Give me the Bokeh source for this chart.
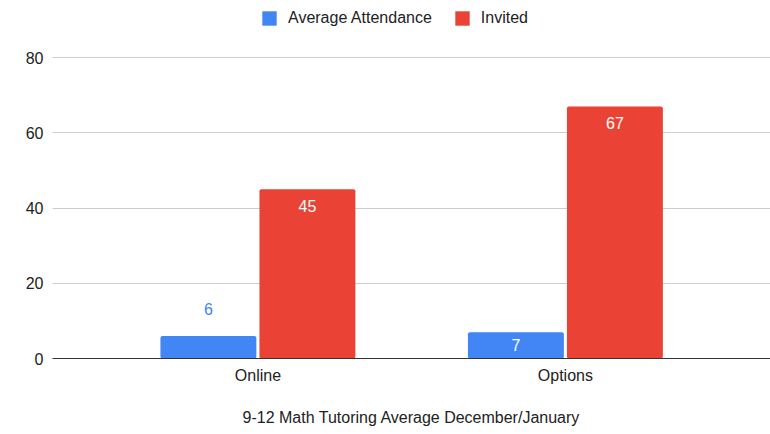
from bokeh.plotting import figure
from bokeh.models import (ColumnDataSource, Range1d, FixedTicker, Legend, LegendItem)
from bokeh.transform import dodge
from bokeh.embed import file_html
from bokeh.resources import INLINE

categories = ["Online", "Options"]
attendance = [6, 7]
invited = [45, 67]
series_names = ["Average Attendance", "Invited"]
y_ticks = [0, 20, 40, 60, 80]
x_title = "9-12 Math Tutoring Average December/January"

BLUE = "#4285f4"
RED = "#ea4335"
FONT = "Liberation Sans"
TXT = "#222222"
FS = "16px"

xs = list(range(len(categories)))
frame_h = 358
top_gap = 57          # space above the 80 gridline, inside the frame (holds legend)
y_max = y_ticks[-1]
y_end = y_max * frame_h / (frame_h - top_gap)
px_per_unit = (frame_h - top_gap) / y_max

def label_cols(vals, outside_color):
    offs, cols = [], []
    for v in vals:
        h = v * px_per_unit
        if h >= 24:
            offs.append(min(17, h / 2))
            cols.append("white")
        else:
            offs.append(-27)
            cols.append(outside_color)
    return offs, cols

a_off, a_col = label_cols(attendance, BLUE)
i_off, i_col = label_cols(invited, RED)

src = ColumnDataSource(dict(
    x=xs, att=attendance, inv=invited,
    att_txt=[str(v) for v in attendance], inv_txt=[str(v) for v in invited],
    att_off=a_off, att_col=a_col, inv_off=i_off, inv_col=i_col,
))

p = figure(
    frame_width=718, frame_height=frame_h,
    x_range=Range1d(-0.668, 1.667), y_range=Range1d(0, y_end),
    output_backend="svg", toolbar_location=None,
    min_border_left=52, min_border_right=0, min_border_top=0, min_border_bottom=76,
)
p.outline_line_color = None
p.background_fill_color = "white"
p.border_fill_color = "white"

off = 0.161
w = 0.312
r1 = p.vbar(x=dodge("x", -off), top="att", width=w, source=src,
            fill_color=BLUE, line_color=None, border_radius=2)
r2 = p.vbar(x=dodge("x", off), top="inv", width=w, source=src,
            fill_color=RED, line_color=None, border_radius=2)

p.text(x=dodge("x", -off), y="att", text="att_txt", y_offset="att_off",
       text_color="att_col", text_align="center", text_baseline="middle",
       text_font={"value": FONT}, text_font_size=FS, source=src)
p.text(x=dodge("x", off), y="inv", text="inv_txt", y_offset="inv_off",
       text_color="inv_col", text_align="center", text_baseline="middle",
       text_font={"value": FONT}, text_font_size=FS, source=src)

# axes
p.xaxis.ticker = FixedTicker(ticks=xs)
p.xaxis.major_label_overrides = {i: c for i, c in enumerate(categories)}
p.xaxis.axis_line_color = "#333333"
p.xaxis.major_tick_line_color = None
p.xaxis.major_tick_out = 0
p.xaxis.major_tick_in = 0
p.xaxis.minor_tick_line_color = None
p.xaxis.major_label_standoff = 8
p.xaxis.major_label_text_font = FONT
p.xaxis.major_label_text_font_size = FS
p.xaxis.major_label_text_color = TXT
p.xaxis.axis_label = x_title
p.xaxis.axis_label_text_font = FONT
p.xaxis.axis_label_text_font_size = FS
p.xaxis.axis_label_text_font_style = "normal"
p.xaxis.axis_label_text_color = TXT
p.xaxis.axis_label_standoff = 22

p.yaxis.ticker = FixedTicker(ticks=y_ticks)
p.yaxis.axis_line_color = None
p.yaxis.major_tick_line_color = None
p.yaxis.major_tick_out = 0
p.yaxis.major_tick_in = 0
p.yaxis.minor_tick_line_color = None
p.yaxis.major_label_standoff = 9
p.yaxis.major_label_text_font = FONT
p.yaxis.major_label_text_font_size = FS
p.yaxis.major_label_text_color = TXT

p.xgrid.grid_line_color = None
p.ygrid.ticker = FixedTicker(ticks=y_ticks)
p.ygrid.grid_line_color = "#cccccc"

legend = Legend(
    items=[LegendItem(label=series_names[0], renderers=[r1]),
           LegendItem(label=series_names[1], renderers=[r2])],
    location=(208, 331), orientation="horizontal",
    glyph_width=18, glyph_height=18, label_height=18, label_standoff=10, spacing=21,
    padding=0, margin=0, border_line_color=None, background_fill_alpha=0,
    label_text_font=FONT, label_text_font_size=FS, label_text_color=TXT,
)
p.add_layout(legend, "center")

open("out.html", "w").write(file_html(p, INLINE))
